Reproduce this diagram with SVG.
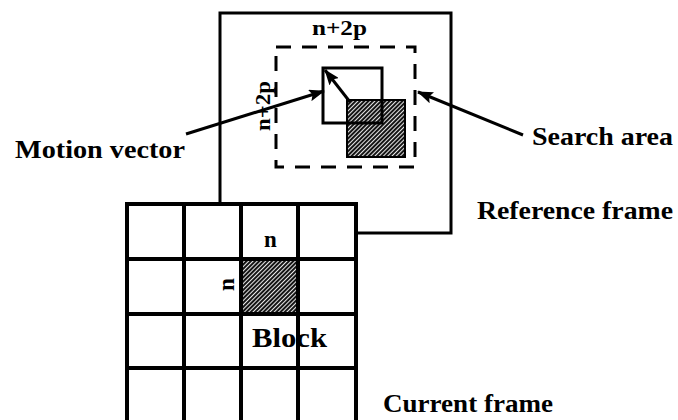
<svg xmlns="http://www.w3.org/2000/svg" width="678" height="420" viewBox="0 0 678 420">
<defs>
<pattern id="hatch" width="3" height="10" patternUnits="userSpaceOnUse" patternTransform="rotate(45)">
<rect width="3" height="10" fill="#151515"/>
<rect width="0.9" height="10" fill="#ffffff"/>
</pattern>
<marker id="arr" viewBox="0 0 16 12" refX="15" refY="6" markerWidth="16" markerHeight="12" markerUnits="userSpaceOnUse" orient="auto">
<path d="M0,0 L16,6 L0,12 L3,6 Z" fill="#000"/>
</marker>
</defs>
<style>
.frame{fill:#fff;stroke:#000;stroke-width:3}
.line{fill:none;stroke:#000;stroke-width:3}
.grid{stroke:#000;stroke-width:4;fill:none}
.dash{fill:none;stroke:#000;stroke-width:3;stroke-dasharray:15 11}
.lbl{font-family:"Liberation Serif","Times New Roman",serif;font-weight:bold;fill:#000}
.conn{fill:none;stroke:#000;stroke-width:3;marker-end:url(#arr)}
</style>
<rect width="678" height="420" fill="#fff"/>

<g id="reference-frame">
<rect class="frame" x="220" y="13" width="231" height="220"/>
<text class="lbl" x="477" y="219" font-size="26" textLength="196" lengthAdjust="spacingAndGlyphs">Reference frame</text>
</g>

<g id="search-area">
<rect class="dash" x="276" y="47" width="139" height="120"/>
<text class="lbl" x="312" y="35" font-size="22" textLength="55" lengthAdjust="spacingAndGlyphs">n+2p</text>
<text class="lbl" transform="translate(270,131) rotate(-90)" font-size="22" textLength="50" lengthAdjust="spacingAndGlyphs">n+2p</text>
</g>

<g id="matched-block">
<rect x="323" y="68" width="59" height="55" fill="#fff"/>
<rect x="347" y="100" width="58" height="57" fill="url(#hatch)" stroke="#000" stroke-width="2"/>
<rect class="line" x="323" y="68" width="59" height="55"/>
</g>

<g id="current-frame">
<rect x="127" y="204" width="229" height="220" fill="#fff"/>
<rect x="241" y="259" width="57" height="55" fill="url(#hatch)"/>
<path class="grid" d="M127,204V422M184,204V422M241,204V422M298,204V422M356,204V422M125,204H358M125,259H358M125,314H358M125,368H358"/>
<text class="lbl" x="264" y="247" font-size="23">n</text>
<text class="lbl" transform="translate(234,291) rotate(-90)" font-size="23">n</text>
<text class="lbl" x="252" y="347" font-size="27" textLength="75" lengthAdjust="spacingAndGlyphs">Block</text>
<text class="lbl" x="383" y="412" font-size="26" textLength="170" lengthAdjust="spacingAndGlyphs">Current frame</text>
</g>

<g id="labels">
<text class="lbl" x="15" y="158" font-size="26" textLength="170" lengthAdjust="spacingAndGlyphs">Motion vector</text>
<text class="lbl" x="532" y="145" font-size="26" textLength="141" lengthAdjust="spacingAndGlyphs">Search area</text>
</g>

<g id="connectors">
<line class="conn" x1="186" y1="134" x2="324" y2="91"/>
<line class="conn" x1="523" y1="135" x2="418" y2="92"/>
<line class="conn" x1="350" y1="102" x2="325" y2="70"/>
</g>
</svg>
